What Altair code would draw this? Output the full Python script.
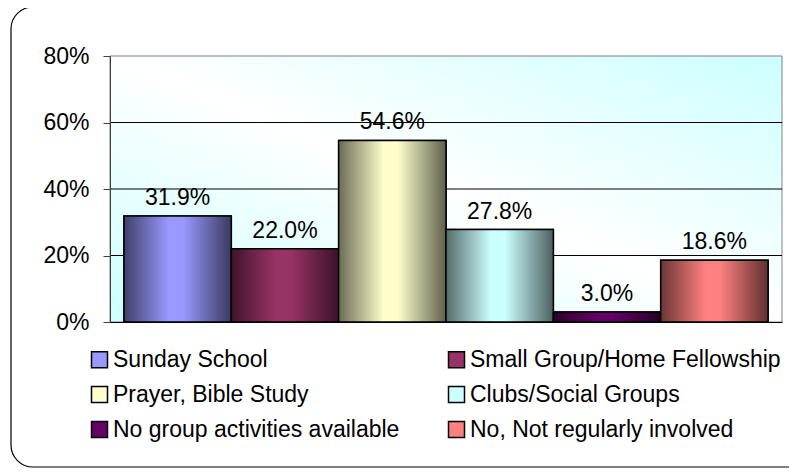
import altair as alt
import pandas as pd

# ---- data ----
series = [
    "Sunday School",
    "Small Group/Home Fellowship",
    "Prayer, Bible Study",
    "Clubs/Social Groups",
    "No group activities available",
    "No, Not regularly involved",
]
values = [0.319, 0.220, 0.546, 0.278, 0.030, 0.186]
colors = ["#9999FF", "#993366", "#FFFFCC", "#CCFFFF", "#660066", "#FF8080"]
y_ticks = [0, 0.2, 0.4, 0.6, 0.8]
grid_vals = [0.2, 0.4, 0.6]

FONT = "Liberation Sans"
FS = 23

df = pd.DataFrame({"series": series, "value": values})
grid_df = pd.DataFrame({"value": grid_vals})
one_df = pd.DataFrame({"k": [0]})


def shade(hex_color, f):
    r, g, b = (int(hex_color[i:i + 2], 16) for i in (1, 3, 5))
    return "#%02x%02x%02x" % (int(r * f), int(g * f), int(b * f))


y_scale = alt.Scale(domain=[0, 0.8], nice=False, zero=True)
x_scale = alt.Scale(domain=series, paddingInner=0, paddingOuter=0.13)

x_enc = alt.X(
    "series:N",
    sort=series,
    scale=x_scale,
    axis=alt.Axis(labels=False, ticks=False, title=None, grid=False,
                  domainColor="black", domainWidth=1, zindex=2),
)
y_enc = alt.Y(
    "value:Q",
    scale=y_scale,
    axis=alt.Axis(values=y_ticks, format=".0%", title=None, grid=False,
                  labelFontSize=FS, labelFont=FONT, labelColor="black",
                  labelPadding=14, tickSize=7, tickColor="#404040",
                  domainColor="#404040", zindex=2),
)

# outer rounded frame
frame = alt.Chart(one_df).mark_rect(
    fill="white", fillOpacity=0, stroke="black", strokeWidth=1.2, cornerRadius=22
).encode(x=alt.value(-99), x2=alt.value(700), y=alt.value(-49), y2=alt.value(411))

# plot area gradient background
bg_grad = alt.LinearGradient(
    gradient="linear", x1=0, y1=1, x2=1, y2=0,
    stops=[
        alt.GradientStop(offset=0, color="#CCFFFF"),
        alt.GradientStop(offset=0.5, color="#FFFFFF"),
        alt.GradientStop(offset=1, color="#CCFFFF"),
    ],
)
background = alt.Chart(one_df).mark_rect(
    color=bg_grad, stroke="#808080", strokeWidth=1
).encode(x=alt.value(0), x2=alt.value("width"), y=alt.value(0), y2=alt.value("height"))

# gridlines
grid = alt.Chart(grid_df).mark_rule(color="black", strokeWidth=1).encode(y=y_enc)

# base bars (carry the legend)
base = alt.Chart(df).mark_bar(stroke="black", strokeWidth=1.5).encode(
    x=x_enc,
    y=y_enc,
    color=alt.Color(
        "series:N",
        sort=series,
        scale=alt.Scale(domain=series, range=colors),
        legend=alt.Legend(
            orient="none", legendX=-22, legendY=292, columns=2,
            direction="horizontal",
            title=None, symbolType="square", symbolSize=256,
            symbolStrokeColor="black", symbolStrokeWidth=1.5,
            labelFontSize=23, labelFont=FONT, labelColor="black",
            labelLimit=600, labelOffset=2, columnPadding=45, rowPadding=11,
            padding=0, symbolOpacity=1,
        ),
    ),
)

# gradient overlays per series
grad_layers = []
for s, c in zip(series, colors):
    g = alt.LinearGradient(
        gradient="linear", x1=0, y1=0, x2=1, y2=0,
        stops=[
            alt.GradientStop(offset=0, color=shade(c, 0.42)),
            alt.GradientStop(offset=0.42, color=c),
            alt.GradientStop(offset=0.55, color=c),
            alt.GradientStop(offset=1, color=shade(c, 0.38)),
        ],
    )
    grad_layers.append(
        alt.Chart(df).transform_filter(alt.datum.series == s)
        .mark_bar(color=g, stroke="black", strokeWidth=1.5)
        .encode(x=x_enc, y=y_enc)
    )

labels = alt.Chart(df).mark_text(
    dy=-11, baseline="alphabetic", fontSize=FS, font=FONT, color="black"
).encode(x=x_enc, y=y_enc, text=alt.Text("value:Q", format=".1%"))

chart = alt.layer(frame, background, grid, base, *grad_layers, labels).properties(
    width=672,
    height=266,
    autosize=alt.AutoSizeParams(type="none"),
    padding={"left": 102, "top": 48, "right": 7, "bottom": 146},
    background="white",
).configure(font=FONT).configure_view(stroke=None)

chart.save("out.html", embed_options={"renderer": "svg", "actions": False})
